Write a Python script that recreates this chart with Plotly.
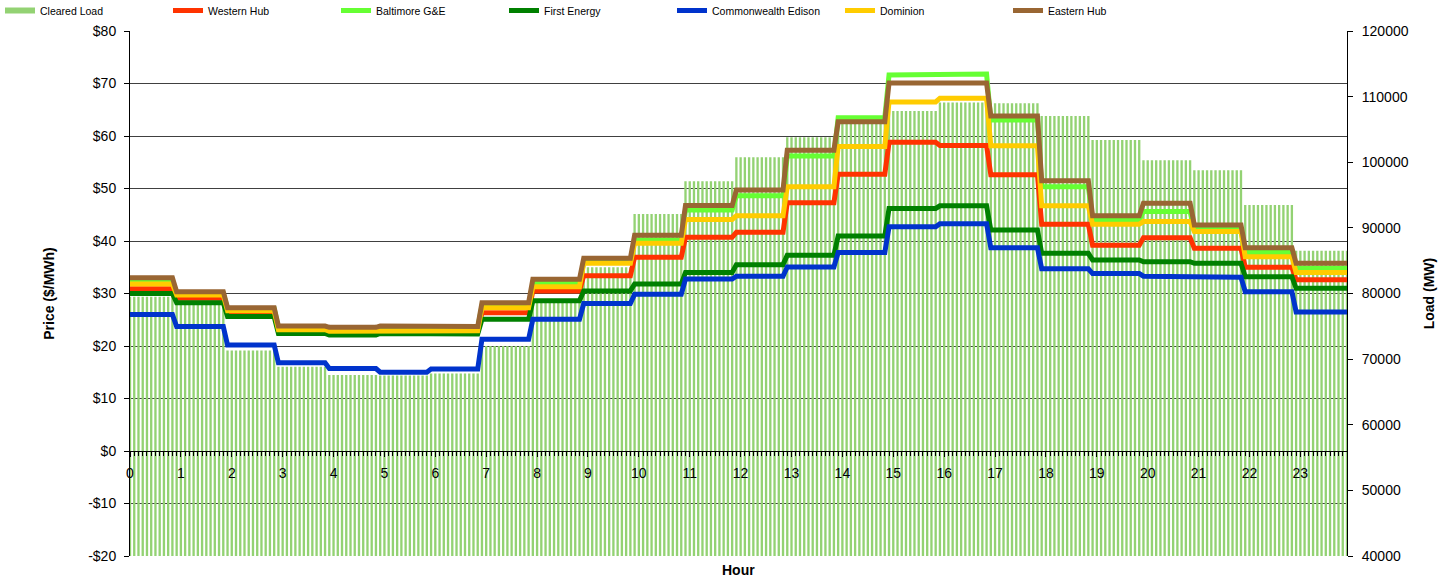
import numpy as np
import plotly.graph_objects as go

# ---------------- data (hourly values) ----------------
hours = list(range(24))
cleared_load = [79500, 78300, 71300, 68850, 67600, 67500, 67800, 72000, 79000, 84000,
                92100, 97100, 100750, 103800, 106000, 107800, 109100, 109000, 107050,
                103400, 100300, 98800, 93500, 86500]
western_hub = [30.9, 29.1, 26.2, 22.8, 22.5, 22.8, 22.7, 26.35, 30.5, 33.4, 36.9, 40.7,
               41.65, 47.3, 52.7, 58.8, 58.2, 52.6, 43.2, 39.2, 40.6, 38.6, 35.0, 32.6]
baltimore_ge = [32.5, 30.0, 27.1, 23.5, 23.3, 23.6, 23.5, 27.6, 31.9, 36.0, 40.2, 45.9,
                48.6, 56.2, 63.5, 71.6, 71.8, 63.05, 50.35, 44.1, 45.6, 42.2, 37.8, 34.8]
first_energy = [30.0, 28.25, 25.6, 22.4, 22.1, 22.4, 22.3, 25.1, 28.6, 30.5, 31.8, 34.0,
                35.5, 37.3, 40.95, 46.2, 46.7, 42.1, 37.65, 36.4, 36.05, 35.75, 33.2, 31.0]
commonwealth_edison = [26.0, 23.7, 20.2, 16.8, 15.7, 15.0, 15.6, 21.3, 25.1, 28.1, 29.85,
                       32.75, 33.3, 35.05, 37.8, 42.7, 43.3, 38.7, 34.7, 33.8, 33.3, 33.1,
                       30.35, 26.5]
dominion = [31.8, 29.7, 26.7, 23.1, 22.8, 23.0, 22.9, 27.3, 31.3, 35.75, 39.55, 44.1,
            44.8, 50.35, 58.0, 66.5, 67.2, 58.15, 46.7, 43.2, 43.7, 41.8, 37.0, 34.0]
eastern_hub = [33.0, 30.35, 27.3, 23.8, 23.55, 23.8, 23.7, 28.25, 32.7, 36.7, 41.1, 46.75,
               49.7, 57.3, 62.7, 70.1, 70.1, 63.8, 51.5, 44.8, 47.2, 43.05, 38.7, 35.75]

price_ticks = [-20, -10, 0, 10, 20, 30, 40, 50, 60, 70, 80]
price_tick_text = ["-$20", "-$10", "$0", "$10", "$20", "$30", "$40", "$50", "$60", "$70", "$80"]

# five-minute intervals (12 per hour); hourly values held for each interval
PER_HOUR = 12
n = 24 * PER_HOUR
x5 = np.arange(n) / PER_HOUR


def to_intervals(vals):
    rep = np.repeat(np.asarray(vals, dtype=float), PER_HOUR)
    return np.concatenate([rep[1:], rep[-1:]])


FONT = "Liberation Sans, Arial, sans-serif"
BAR_COLOR = "#93D273"

series = [
    ("Western Hub", western_hub, "#FF3300"),
    ("Baltimore G&E", baltimore_ge, "#66FF33"),
    ("First Energy", first_energy, "#008000"),
    ("Commonwealth Edison", commonwealth_edison, "#0033CC"),
    ("Dominion", dominion, "#FFCC00"),
    ("Eastern Hub", eastern_hub, "#996633"),
]

W, H = 1451, 579
ML, MR, MT, MB = 130, 104, 31, 23
PW, PH = W - ML - MR, H - MT - MB

fig = go.Figure()
fig.add_trace(go.Bar(x=x5, y=to_intervals(cleared_load), yaxis="y", marker_color=BAR_COLOR,
                     marker_line_width=0, name="Cleared Load", showlegend=False))
# legend entry for the load bars (wide flat swatch as in the original)
fig.add_trace(go.Scatter(x=[None], y=[None], mode="lines", yaxis="y2", name="Cleared Load",
                         line=dict(color=BAR_COLOR, width=6)))
for name, vals, color in series:
    fig.add_trace(go.Scatter(x=x5, y=to_intervals(vals), yaxis="y2", mode="lines", name=name,
                             line=dict(color=color, width=5)))

fig.update_layout(
    width=W, height=H,
    margin=dict(l=ML, r=MR, t=MT, b=MB, autoexpand=False),
    paper_bgcolor="white", plot_bgcolor="white",
    font=dict(family=FONT, size=14, color="black"),
    bargap=0.45,
    showlegend=True,
    legend=dict(orientation="h", x=-ML / PW, xref="paper", y=1 + (MT + 4) / PH, yref="paper",
                xanchor="left", yanchor="top", font=dict(size=10.5),
                entrywidth=123, entrywidthmode="pixels", traceorder="normal"),
    xaxis=dict(range=[0, (n - 1) / PER_HOUR], tickmode="linear", tick0=0, dtick=1,
               anchor="free", position=0.2, showline=True, linecolor="black", linewidth=1,
               ticks="outside", ticklen=5, tickcolor="black", showgrid=False, zeroline=False,
               ticklabelstandoff=4, automargin=False, tickfont=dict(size=14),
               minor=dict(dtick=1 / PER_HOUR, ticks="outside", ticklen=4, tickcolor="black",
                          showgrid=False)),
    yaxis=dict(side="right", range=[40000, 120000], dtick=10000, tickformat="d",
               showgrid=False, zeroline=False, showline=True, linecolor="black",
               ticks="outside", ticklen=5, tickcolor="black", ticklabelstandoff=6,
               automargin=False, tickfont=dict(size=14),
               title=dict(text="<b>Load (MW)</b>", standoff=16, font=dict(size=14))),
    yaxis2=dict(overlaying="y", side="left", range=[-20, 80], tickmode="array",
                tickvals=price_ticks, ticktext=price_tick_text,
                showgrid=True, gridcolor="#404040", gridwidth=1, zeroline=False,
                showline=True, linecolor="black", ticks="outside", ticklen=5,
                tickcolor="black", ticklabelstandoff=5, automargin=False,
                tickfont=dict(size=14),
                title=dict(text="<b>Price ($/MWh)</b>", standoff=30, font=dict(size=14))),
    annotations=[dict(text="<b>Hour</b>", x=0.5, xref="paper", y=-14 / PH, yref="paper",
                      xanchor="center", yanchor="middle", showarrow=False,
                      font=dict(size=14))],
)

fig.write_html("out.html", config={"displayModeBar": False},
               post_script="document.body.style.margin='0';")
